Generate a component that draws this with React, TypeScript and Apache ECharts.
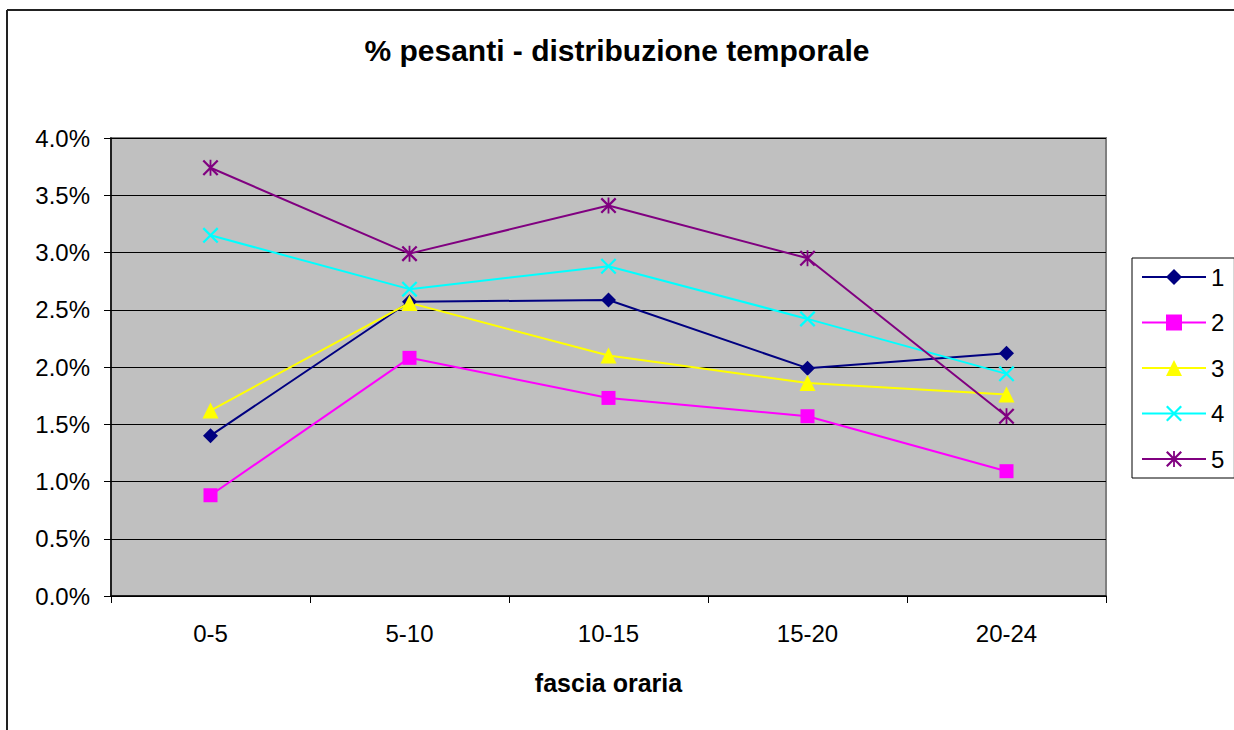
import React, { useEffect, useRef } from "react";
import * as echarts from "echarts";

const categories = ["0-5", "5-10", "10-15", "15-20", "20-24"];
const seriesNames = ["1", "2", "3", "4", "5"];
const s1 = [1.4, 2.57, 2.585, 1.99, 2.12];
const s2 = [0.88, 2.08, 1.73, 1.57, 1.09];
const s3 = [1.62, 2.56, 2.1, 1.86, 1.76];
const s4 = [3.15, 2.68, 2.88, 2.42, 1.94];
const s5 = [3.74, 2.99, 3.41, 2.95, 1.57];

const colors = ["#000080", "#ff00ff", "#ffff00", "#00ffff", "#800080"];
const X_PATH =
  "path://M0,1.6 L1.6,0 L16,14.4 L14.4,16 Z M14.4,0 L16,1.6 L1.6,16 L0,14.4 Z";
const STAR_PATH =
  "path://M0,1.6 L1.6,0 L16,14.4 L14.4,16 Z M14.4,0 L16,1.6 L1.6,16 L0,14.4 Z M7.1,0 L8.9,0 L8.9,16 L7.1,16 Z";
const symbols = ["diamond", "rect", "triangle", X_PATH, STAR_PATH];
const symbolSizes = [15, 14, 16, 16, 16];

export default function App() {
  const ref = useRef<HTMLDivElement>(null);
  useEffect(() => {
    const chart = echarts.init(ref.current!, undefined, { renderer: "svg" });
    const data = [s1, s2, s3, s4, s5];
    const font = "'Liberation Sans', Arial, sans-serif";
    chart.setOption({
      animation: false,
      textStyle: { fontFamily: font },
      title: {
        text: "% pesanti - distribuzione temporale",
        left: "center",
        top: 30,
        textStyle: { fontSize: 30, fontWeight: "bold", color: "#000", fontFamily: font },
      },
      graphic: [
        { type: "line", shape: { x1: 7, y1: 10, x2: 1234, y2: 10 }, style: { stroke: "#222", lineWidth: 2 } },
        { type: "line", shape: { x1: 7, y1: 10, x2: 7, y2: 730 }, style: { stroke: "#222", lineWidth: 2 } },
      ],
      legend: {
        orient: "vertical",
        left: 1132,
        top: 258,
        padding: [7, 10, 7, 9],
        itemWidth: 64,
        itemHeight: 20,
        itemGap: 21.5,
        borderColor: "#000",
        borderWidth: 1,
        backgroundColor: "#fff",
        textStyle: { fontSize: 24, color: "#000", fontFamily: font },
        data: seriesNames,
      },
      grid: {
        left: 111,
        right: 128,
        top: 138,
        bottom: 134,
        show: true,
        backgroundColor: "#c0c0c0",
        borderColor: "#808080",
        borderWidth: 2,
      },
      xAxis: {
        type: "category",
        data: categories,
        boundaryGap: true,
        name: "fascia oraria",
        nameLocation: "middle",
        nameGap: 74,
        nameTextStyle: { fontSize: 25, fontWeight: "bold", color: "#000" },
        axisLine: { lineStyle: { color: "#000", width: 1.5 } },
        axisTick: { show: true, length: 7, alignWithLabel: false, lineStyle: { color: "#000" } },
        axisLabel: { fontSize: 24, color: "#000", margin: 25 },
      },
      yAxis: {
        type: "value",
        min: 0,
        max: 4,
        interval: 0.5,
        axisLine: { show: true, lineStyle: { color: "#000", width: 1.5 } },
        axisTick: { show: true, length: 7, lineStyle: { color: "#000" } },
        axisLabel: {
          fontSize: 24,
          color: "#000",
          margin: 21,
          formatter: (v: number) => v.toFixed(1) + "%",
        },
        splitLine: { show: true, lineStyle: { color: "#000", width: 1 } },
      },
      series: seriesNames.map((n, i) => ({
        name: n,
        type: "line",
        data: data[i],
        symbol: symbols[i],
        symbolSize: symbolSizes[i],
        showAllSymbol: true,
        lineStyle: { color: colors[i], width: 2 },
        itemStyle: { color: colors[i], borderWidth: 0 },
        emphasis: { disabled: true },
      })),
    });
    return () => chart.dispose();
  }, []);
  return (
    <div
      ref={ref}
      style={{ position: "fixed", left: 0, top: 0, width: 1234, height: 730, background: "#fff" }}
    />
  );
}
